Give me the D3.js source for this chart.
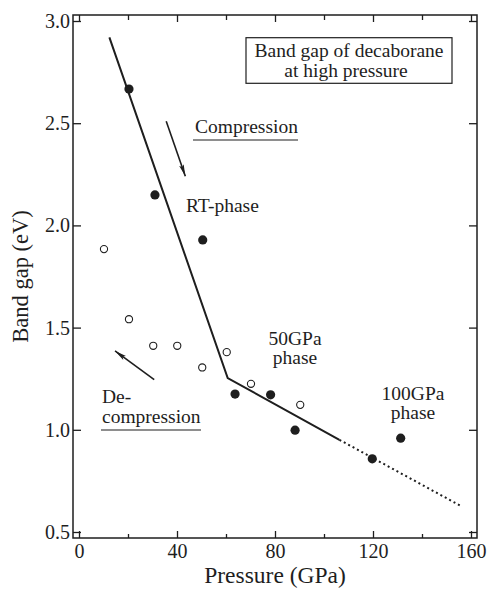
<!DOCTYPE html>
<html>
<head>
<meta charset="utf-8">
<script src="https://cdn.jsdelivr.net/npm/d3@7"></script>
<style>
  body { margin: 0; background: #fff; }
</style>
</head>
<body>
<div id="chart"></div>
<script>
// compression (filled) points
const compPressure = [20.4, 31.0, 50.5, 63.7, 78.2, 88.2, 119.7, 131.3];
const compGap      = [2.667, 2.149, 1.929, 1.175, 1.171, 0.998, 0.858, 0.959];
// decompression (open) points
const decompPressure = [10.2, 20.4, 30.3, 40.1, 50.3, 60.3, 70.2, 90.3];
const decompGap      = [1.884, 1.541, 1.411, 1.411, 1.305, 1.380, 1.225, 1.122];
// guide line: solid part and dotted extrapolation
const fitPressure = [12.4, 60.7, 106.3];
const fitGap      = [2.92, 1.253, 0.951];
const extPressure = [106.3, 156.2];
const extGap      = [0.951, 0.625];
// ticks
const xMajor = [0, 40, 80, 120, 160];
const xMinor = [20, 60, 100, 140];
const yMajor = [0.5, 1.0, 1.5, 2.0, 2.5, 3.0];

const width = 488, height = 591;
// plot frame
const frameL = 73, frameR = 477, frameT = 15, frameB = 538;
const serif = "Liberation Serif";

const x = d3.scaleLinear().domain([0, 160]).range([79, 471]);
const y = d3.scaleLinear().domain([0.5, 3.0]).range([532, 21]);

const svg = d3.select("#chart").append("svg")
  .attr("width", width)
  .attr("height", height)
  .attr("font-family", serif);

const ink = "#1e1e1e";

// arrow head marker
svg.append("defs").append("marker")
  .attr("id", "head")
  .attr("viewBox", "0 0 12 6")
  .attr("refX", 12).attr("refY", 3)
  .attr("markerWidth", 12).attr("markerHeight", 6)
  .attr("markerUnits", "userSpaceOnUse")
  .attr("orient", "auto")
  .append("path")
  .attr("d", "M0,0.6 L12,3 L0,5.4 L2.5,3 Z")
  .attr("fill", ink);

// frame
svg.append("rect")
  .attr("x", frameL).attr("y", frameT)
  .attr("width", frameR - frameL).attr("height", frameB - frameT)
  .attr("fill", "none").attr("stroke", ink).attr("stroke-width", 1.5);

// axes with inward ticks
const styleAxis = g => {
  g.attr("font-family", serif);
  g.select(".domain").remove();
  g.selectAll(".tick line").attr("stroke", ink).attr("stroke-width", 1.3);
  g.selectAll(".tick text").attr("font-size", 20).attr("fill", ink);
};

svg.append("g")
  .attr("transform", `translate(0,${frameB})`)
  .call(d3.axisBottom(x).tickValues(xMajor).tickSizeInner(-7).tickSizeOuter(0).tickPadding(6))
  .call(styleAxis);
svg.append("g")
  .attr("transform", `translate(0,${frameB})`)
  .call(d3.axisBottom(x).tickValues(xMinor).tickSizeInner(-4).tickSizeOuter(0).tickFormat(""))
  .call(styleAxis);
svg.append("g")
  .attr("transform", `translate(0,${frameT})`)
  .call(d3.axisTop(x).tickValues(xMajor).tickSizeInner(-7).tickSizeOuter(0).tickFormat(""))
  .call(styleAxis);
svg.append("g")
  .attr("transform", `translate(0,${frameT})`)
  .call(d3.axisTop(x).tickValues(xMinor).tickSizeInner(-5).tickSizeOuter(0).tickFormat(""))
  .call(styleAxis);
svg.append("g")
  .attr("transform", `translate(${frameL},0)`)
  .call(d3.axisLeft(y).tickValues(yMajor).tickSizeInner(-8).tickSizeOuter(0).tickPadding(3)
    .tickFormat(d3.format(".1f")))
  .call(styleAxis);
svg.append("g")
  .attr("transform", `translate(${frameR},0)`)
  .call(d3.axisRight(y).tickValues(yMajor).tickSizeInner(-8).tickSizeOuter(0).tickFormat(""))
  .call(styleAxis);

// axis titles
svg.append("text")
  .attr("x", (frameL + frameR) / 2).attr("y", 583)
  .attr("text-anchor", "middle").attr("font-size", 23.5).attr("fill", ink)
  .text("Pressure (GPa)");
svg.append("text")
  .attr("transform", `translate(28,${(frameT + frameB) / 2}) rotate(-90)`)
  .attr("text-anchor", "middle").attr("font-size", 22.5).attr("fill", ink)
  .text("Band gap (eV)");

// guide lines
const line = d3.line().x(d => x(d[0])).y(d => y(d[1]));
svg.append("path")
  .datum(d3.zip(fitPressure, fitGap))
  .attr("d", line)
  .attr("fill", "none").attr("stroke", ink).attr("stroke-width", 2);
svg.append("path")
  .datum(d3.zip(extPressure, extGap))
  .attr("d", line)
  .attr("fill", "none").attr("stroke", ink).attr("stroke-width", 2)
  .attr("stroke-dasharray", "2,3");

// points
svg.append("g").selectAll("circle")
  .data(d3.zip(decompPressure, decompGap))
  .join("circle")
  .attr("cx", d => x(d[0])).attr("cy", d => y(d[1]))
  .attr("r", 3.6)
  .attr("fill", "#fff").attr("stroke", ink).attr("stroke-width", 1.1);
svg.append("g").selectAll("circle")
  .data(d3.zip(compPressure, compGap))
  .join("circle")
  .attr("cx", d => x(d[0])).attr("cy", d => y(d[1]))
  .attr("r", 4.6)
  .attr("fill", ink);

// arrows
const arrow = (p0, g0, p1, g1) => svg.append("line")
  .attr("x1", x(p0)).attr("y1", y(g0))
  .attr("x2", x(p1)).attr("y2", y(g1))
  .attr("stroke", ink).attr("stroke-width", 1.6)
  .attr("marker-end", "url(#head)");
arrow(35.6, 2.51, 43.4, 2.24);
arrow(30.7, 1.245, 14.7, 1.386);

// annotations
const label = (tx, ty, str, anchor) => svg.append("text")
  .attr("x", tx).attr("y", ty)
  .attr("text-anchor", anchor || "start")
  .attr("font-size", 19.5).attr("fill", ink)
  .text(str);

label(195, 133, "Compression");
svg.append("line").attr("x1", 193).attr("x2", 298).attr("y1", 140).attr("y2", 140)
  .attr("stroke", ink).attr("stroke-width", 1.2);
label(186, 212, "RT-phase");
label(102, 403, "De-");
label(102, 423, "compression");
svg.append("line").attr("x1", 101).attr("x2", 201).attr("y1", 430).attr("y2", 430)
  .attr("stroke", ink).attr("stroke-width", 1.2);
label(295, 345, "50GPa", "middle");
label(295, 364, "phase", "middle");
label(413, 400, "100GPa", "middle");
label(413, 419, "phase", "middle");

// title box
svg.append("rect")
  .attr("x", 246).attr("y", 37.7).attr("width", 206).attr("height", 45.6)
  .attr("fill", "#fff").attr("stroke", ink).attr("stroke-width", 1.2);
label(349, 56.5, "Band gap of decaborane", "middle");
label(346, 77, "at high pressure", "middle");
</script>
</body>
</html>
